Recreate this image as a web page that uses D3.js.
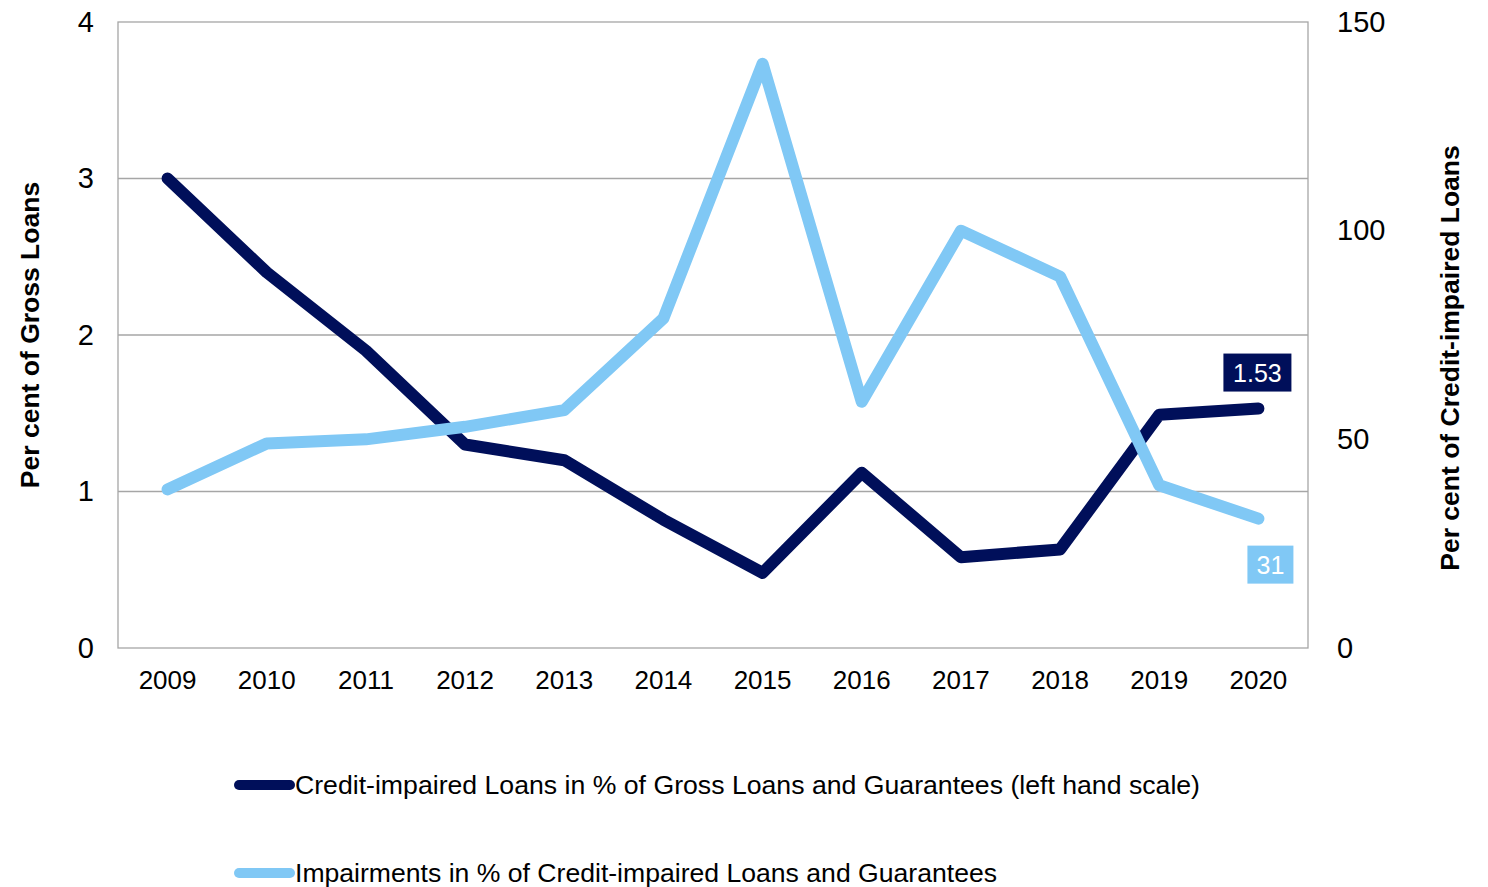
<!DOCTYPE html>
<html>
<head>
<meta charset="utf-8">
<script src="https://cdn.jsdelivr.net/npm/d3@7"></script>
<style>
  html, body { margin: 0; padding: 0; background: #fff; }
  svg { display: block; font-family: "Liberation Sans", Arial, sans-serif; }
</style>
</head>
<body>
<svg id="chart" width="1488" height="887"></svg>
<script>
// Years on the category axis
const years = ["2009", "2010", "2011", "2012", "2013", "2014", "2015", "2016", "2017", "2018", "2019", "2020"];

// Credit-impaired loans, % of gross loans and guarantees (left scale)
const impairedShare = [3.0, 2.4, 1.9, 1.3, 1.2, 0.82, 0.48, 1.12, 0.58, 0.63, 1.49, 1.53];

// Impairments, % of credit-impaired loans and guarantees (right scale)
const impairmentCoverage = [38, 49, 50, 53, 57, 79, 140, 59, 100, 89, 39, 31];

const leftTicks = [0, 1, 2, 3, 4];
const rightTicks = [0, 50, 100, 150];

const seriesNames = [
  "Credit-impaired Loans in % of Gross Loans and Guarantees (left hand scale)",
  "Impairments in % of Credit-impaired Loans and Guarantees"
];

const DARK = "#000F5A";
const LIGHT = "#80C8F5";
const GRID = "#A6A6A6";
const FONT = "Liberation Sans, Arial, sans-serif";

const svg = d3.select("#chart");
const plot = { left: 118, right: 1308, top: 22, bottom: 648 };

const x = d3.scaleBand().domain(years).range([plot.left, plot.right]);
const yL = d3.scaleLinear().domain([0, 4]).range([plot.bottom, plot.top]);
const yR = d3.scaleLinear().domain([0, 150]).range([plot.bottom, plot.top]);
const cx = d => x(d) + x.bandwidth() / 2;

// Horizontal gridlines on the left-scale ticks
svg.append("g")
  .selectAll("line")
  .data(leftTicks.filter(t => t > 0 && t < 4))
  .join("line")
  .attr("x1", plot.left).attr("x2", plot.right)
  .attr("y1", d => yL(d)).attr("y2", d => yL(d))
  .attr("stroke", GRID).attr("stroke-width", 1.3);

// Plot frame
svg.append("rect")
  .attr("x", plot.left).attr("y", plot.top)
  .attr("width", plot.right - plot.left).attr("height", plot.bottom - plot.top)
  .attr("fill", "none").attr("stroke", GRID).attr("stroke-width", 1.3);

// Left axis labels
const leftAxis = svg.append("g")
  .attr("transform", `translate(${plot.left},0)`)
  .call(d3.axisLeft(yL).tickValues(leftTicks).tickSize(0).tickPadding(24).tickFormat(d3.format("d")));
leftAxis.select(".domain").remove();
leftAxis.selectAll("text")
  .attr("font-size", 29).attr("fill", "#000").attr("font-family", FONT);

// Right axis labels
const rightAxis = svg.append("g")
  .attr("transform", `translate(${plot.right},0)`)
  .call(d3.axisRight(yR).tickValues(rightTicks).tickSize(0).tickPadding(29).tickFormat(d3.format("d")));
rightAxis.select(".domain").remove();
rightAxis.selectAll("text")
  .attr("font-size", 29).attr("fill", "#000").attr("font-family", FONT);

// Category axis labels
const bottomAxis = svg.append("g")
  .attr("transform", `translate(0,${plot.bottom})`)
  .call(d3.axisBottom(x).tickSize(0).tickPadding(23));
bottomAxis.select(".domain").remove();
bottomAxis.selectAll("text")
  .attr("font-size", 26).attr("fill", "#000").attr("font-family", FONT);

// Axis titles
svg.append("text")
  .attr("transform", `translate(39,${(plot.top + plot.bottom) / 2}) rotate(-90)`)
  .attr("text-anchor", "middle")
  .attr("font-family", FONT)
  .attr("font-size", 26.5).attr("font-weight", "bold")
  .text("Per cent of Gross Loans");

svg.append("text")
  .attr("transform", `translate(1459,${(plot.top + plot.bottom) / 2 + 23}) rotate(-90)`)
  .attr("text-anchor", "middle")
  .attr("font-family", FONT)
  .attr("font-size", 26.5).attr("font-weight", "bold")
  .text("Per cent of Credit-impaired Loans");

// Series lines
const lineL = d3.line().x((d, i) => cx(years[i])).y(d => yL(d));
const lineR = d3.line().x((d, i) => cx(years[i])).y(d => yR(d));

svg.append("path")
  .datum(impairedShare)
  .attr("d", lineL)
  .attr("fill", "none").attr("stroke", DARK).attr("stroke-width", 12)
  .attr("stroke-linecap", "round").attr("stroke-linejoin", "round");

svg.append("path")
  .datum(impairmentCoverage)
  .attr("d", lineR)
  .attr("fill", "none").attr("stroke", LIGHT).attr("stroke-width", 12)
  .attr("stroke-linecap", "round").attr("stroke-linejoin", "round");

// Value labels for the final year
const last = years.length - 1;
function valueLabel(value, text, yScale, dx, dy, fill, w) {
  const px = cx(years[last]) + dx;
  const py = yScale(value) + dy;
  const g = svg.append("g");
  g.append("rect")
    .attr("x", px - w / 2).attr("y", py - 19)
    .attr("width", w).attr("height", 38)
    .attr("fill", fill);
  g.append("text")
    .attr("x", px).attr("y", py + 9)
    .attr("text-anchor", "middle")
    .attr("font-family", FONT)
    .attr("font-size", 25).attr("fill", "#fff")
    .text(text);
}
valueLabel(impairedShare[last], d3.format(".2f")(impairedShare[last]), yL, -1, -36, DARK, 68);
valueLabel(impairmentCoverage[last], d3.format("d")(impairmentCoverage[last]), yR, 12, 46, LIGHT, 46);

// Legend
const legend = svg.append("g");
const legendRows = [
  { name: seriesNames[0], color: DARK, y: 785, len: 905 },
  { name: seriesNames[1], color: LIGHT, y: 873, len: 702 }
];
legendRows.forEach(r => {
  legend.append("line")
    .attr("x1", 239).attr("x2", 290)
    .attr("y1", r.y).attr("y2", r.y)
    .attr("stroke", r.color).attr("stroke-width", 10)
    .attr("stroke-linecap", "round");
  legend.append("text")
    .attr("x", 295).attr("y", r.y + 9)
    .attr("font-family", FONT)
    .attr("font-size", 25)
    .attr("textLength", r.len).attr("lengthAdjust", "spacingAndGlyphs")
    .text(r.name);
});
</script>
</body>
</html>
